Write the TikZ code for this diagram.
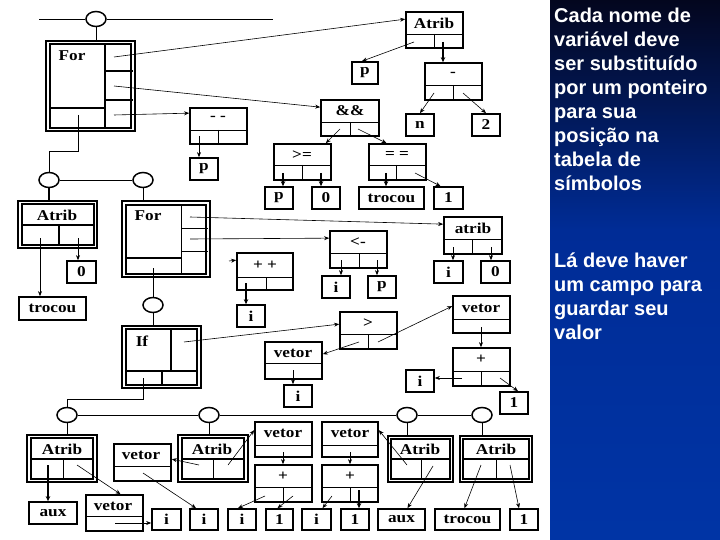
\documentclass[tikz,border=0pt]{standalone}
\usepackage{fontspec}
\usetikzlibrary{arrows.meta,shapes.geometric}
\newfontfamily\bxf{Liberation Serif}[FakeStretch=1.15]
\newfontfamily\sidef{Liberation Sans}
\definecolor{navyA}{RGB}{3,6,30}
\definecolor{navyB}{RGB}{0,44,150}
\definecolor{navyC}{RGB}{0,52,165}
\tikzset{
  bx/.style={draw, line width=1.7pt, inner sep=0pt, font=\bxf\bfseries\fontsize{15}{15}\selectfont},
  dv/.style={line width=0.8pt},
  tdv/.style={line width=2pt},
  inr/.style={line width=1.2pt},
  lbl/.style={inner sep=0pt, font=\bxf\bfseries\fontsize{15}{15}\selectfont},
  ptr/.style={-{Stealth[length=5pt,width=4pt]}, line width=0.6pt},
  tptr/.style={-{Stealth[length=5pt,width=4.5pt]}, line width=1.2pt},
  circ/.style={ellipse, draw, line width=1.5pt, minimum width=20pt, minimum height=15pt, inner sep=0pt},
  lnk/.style={line width=0.8pt},
  side/.style={anchor=base west, inner sep=0pt, text=white, font=\sidef\bfseries\fontsize{20}{24}\selectfont},
}
\newcommand{\MkBox}[5]{\node[bx, minimum width={#4pt-#2pt}, minimum height={#5pt-#3pt}] (#1) at ({(#2+#4)/2},{(#3+#5)/2}) {};}
\newcommand{\MkLeaf}[6]{\node[bx, minimum width={#4pt-#2pt}, minimum height={#5pt-#3pt}] (#1) at ({(#2+#4)/2},{(#3+#5)/2}) {#6};}
\begin{document}
\begin{tikzpicture}[x=1pt,y=-1pt]
\useasboundingbox (0,0) rectangle (720,540);
\fill[white] (0,0) rectangle (550,540);
\shade[top color=navyA, bottom color=navyB] (550,0) rectangle (720,230);
\shade[top color=navyB, bottom color=navyC] (550,230) rectangle (720,540);

% ---------- top level ----------
\coordinate (tl) at (39,19);
\coordinate (tr) at (273,19);
\node[circ] (cT) at (96,19) {};
\draw[lnk] (tl) -- (cT.west) (cT.east) -- (tr);
\MkBox{forA}{46}{41}{135}{131}
\draw[inr] (50,44) rectangle (131,128);
\draw[tdv] (105,44) -- (105,128);
\draw[tdv] (50,108) -- (105,108);
\draw[inr] (105,71) -- (133,71) (105,100) -- (133,100);
\node[lbl] (forA-t) at (72,56) {For};
\draw[lnk] (cT.south) -- (cT.south |- forA.north);

\MkBox{dd}{190}{108}{247}{144}
\draw[dv] (190,130) -- (247,130) (218,130) -- (218,144);
\node[lbl] (dd-t) at (218,118) {- -};
\MkLeaf{p1}{190}{158}{218}{180}{p}

\MkBox{atribT}{406}{12}{463}{48}
\draw[dv] (406,34) -- (463,34) (434,34) -- (434,48);
\node[lbl] (atribT-t) at (434,23) {Atrib};
\MkLeaf{p2}{352}{62}{378}{84}{p}
\MkBox{minus}{425}{63}{482}{100}
\draw[dv] (425,85) -- (482,85) (453,85) -- (453,100);
\node[lbl] (minus-t) at (453,74) {-};
\MkLeaf{n1}{406}{114}{434}{136}{n}
\MkLeaf{two}{472}{114}{500}{136}{2}
\MkBox{and}{321}{100}{379}{136}
\draw[dv] (321,122) -- (379,122) (350,122) -- (350,136);
\node[lbl] (and-t) at (350,111) {\&\&};
\MkBox{ge}{274}{144}{331}{180}
\draw[dv] (274,165) -- (331,165) (302,165) -- (302,180);
\node[lbl] (ge-t) at (302,155) {>=};
\MkLeaf{p3}{265}{187}{293}{209}{p}
\MkLeaf{zero1}{312}{187}{340}{209}{0}
\MkBox{eq}{369}{144}{426}{180}
\draw[dv] (369,165) -- (426,165) (396,165) -- (396,180);
\node[lbl] (eq-t) at (397,155) {= =};
\MkLeaf{trocou1}{359}{187}{424}{209}{trocou}
\MkLeaf{one1}{434}{187}{463}{209}{1}

\coordinate (s-forA1) at (114,57);
\coordinate (s-forA2) at (114,86);
\coordinate (s-forA3) at (114,115);
\coordinate (s-forA4) at (78,115);
\draw[ptr] (s-forA1) -- ([yshift=-8pt]atribT.north west);
\draw[ptr] (s-forA2) -- ([yshift=-8pt]and.north west);
\draw[ptr] (s-forA3) -- ([yshift=-6pt]dd.north west);
\coordinate (s-dd1) at (199,136);
\draw[ptr] (s-dd1) -- (s-dd1 |- p1.north);
\coordinate (s-atT1) at (414,42);
\coordinate (s-atT2) at (443,42);
\draw[ptr] (s-atT1) -- ([xshift=-3pt]p2.north);
\draw[tptr] (s-atT2) -- (s-atT2 |- minus.north);
\coordinate (s-mi1) at (434,93);
\coordinate (s-mi2) at (463,93);
\draw[ptr] (s-mi1) -- (n1.north);
\draw[ptr] (s-mi2) -- (two.north);
\coordinate (s-and1) at (340,129);
\coordinate (s-and2) at (358,129);
\draw[ptr] (s-and1) -- ([xshift=-6pt]ge.north east);
\draw[ptr] (s-and2) -- ([xshift=-11pt]eq.north);
\coordinate (s-ge1) at (283,173);
\coordinate (s-ge2) at (321,173);
\draw[tptr] (s-ge1) -- (s-ge1 |- p3.north);
\draw[tptr] (s-ge2) -- (s-ge2 |- zero1.north);
\coordinate (s-eq1) at (386,173);
\coordinate (s-eq2) at (415,173);
\draw[tptr] (s-eq1) -- (s-eq1 |- trocou1.north);
\draw[ptr] (s-eq2) -- ([xshift=-8pt]one1.north);

% ---------- middle level ----------
\node[circ] (cA) at (49,180) {};
\node[circ] (cB) at (143,180) {};
\draw[lnk] (cA.east) -- (cB.west);
\draw[lnk] (s-forA4) -- ++(0,36) -| (cA.north);

\MkBox{atribL}{18}{201}{97}{248}
\draw[inr] (22,204) rectangle (94,245);
\draw[tdv] (22,225) -- (94,225) (59,225) -- (59,245);
\node[lbl] (atribL-t) at (57,215) {Atrib};
\draw[line width=1.3pt] (cA.south) -- (cA.south |- atribL.north);
\MkLeaf{zero2}{67}{261}{96}{283}{0}
\MkLeaf{trocou2}{19}{297}{86}{320}{trocou}
\coordinate (s-atL1) at (40,238);
\coordinate (s-atL2) at (78,238);
\draw[ptr] (s-atL1) -- (s-atL1 |- trocou2.north);
\draw[ptr] (s-atL2) -- (s-atL2 |- zero2.north);

\MkBox{forB}{122}{201}{210}{277}
\draw[inr] (126,205) rectangle (206,274);
\draw[dv] (181,205) -- (181,274);
\draw[dv] (181,228) -- (208,228) (181,251) -- (208,251);
\draw[tdv] (126,258) -- (181,258);
\node[lbl] (forB-t) at (148,216) {For};
\draw[lnk] (cB.south) -- (cB.south |- forB.north);
\coordinate (s-fB1) at (190,217);
\coordinate (s-fB2) at (190,239);
\coordinate (s-fB3) at (229,261);
\coordinate (s-fB4) at (153,268);

\MkBox{atribR}{444}{217}{502}{254}
\draw[dv] (444,239) -- (502,239) (472,239) -- (472,254);
\node[lbl] (atribR-t) at (473,228) {atrib};
\MkLeaf{i1}{434}{261}{463}{283}{i}
\MkLeaf{zero3}{481}{261}{510}{283}{0}
\draw[ptr] (s-fB1) -- ([yshift=-8pt]atribR.north west);
\coordinate (s-atR1) at (453,247);
\coordinate (s-atR2) at (491,247);
\draw[ptr] (s-atR1) -- (s-atR1 |- i1.north);
\draw[ptr] (s-atR2) -- (s-atR2 |- zero3.north);

\MkBox{asg}{330}{231}{387}{268}
\draw[dv] (330,253) -- (387,253) (359,253) -- (359,268);
\node[lbl] (asg-t) at (358,242) {<-};
\MkLeaf{i2}{322}{276}{350}{298}{i}
\MkLeaf{p4}{368}{276}{396}{298}{p}
\draw[ptr] (s-fB2) -- ([yshift=-8pt]asg.north west);
\coordinate (s-asg1) at (341,260);
\coordinate (s-asg2) at (377,260);
\draw[ptr] (s-asg1) -- (s-asg1 |- i2.north);
\draw[ptr] (s-asg2) -- (s-asg2 |- p4.north);

\MkBox{pp}{237}{253}{293}{290}
\draw[dv] (237,277) -- (293,277) (266,277) -- (266,290);
\node[lbl] (pp-t) at (265,265) {+ +};
\MkLeaf{i3}{237}{305}{265}{327}{i}
\draw[ptr] (s-fB3) -- ([yshift=-8pt]pp.north west);
\coordinate (s-pp1) at (246,283);
\draw[tptr] (s-pp1) -- (s-pp1 |- i3.north);

\node[circ] (cC) at (153,305) {};
\draw[lnk] (s-fB4) -- (cC.north);

\MkBox{ifB}{122}{326}{201}{388}
\draw[inr] (126,329) rectangle (197,385);
\draw[tdv] (171,329) -- (171,371);
\draw[tdv] (126,371) -- (197,371);
\draw[tdv] (162,371) -- (162,385);
\node[lbl] (ifB-t) at (142,341) {If};
\draw[lnk] (cC.south) -- (cC.south |- ifB.north);
\coordinate (s-if1) at (184,342);
\coordinate (s-if2) at (143,378);

\MkBox{gt}{340}{312}{397}{349}
\draw[dv] (340,334) -- (397,334) (368,334) -- (368,349);
\node[lbl] (gt-t) at (368,323) {>};
\draw[ptr] (s-if1) -- ([yshift=-13pt]gt.north west);
\coordinate (s-gt1) at (359,342);
\coordinate (s-gt2) at (378,342);

\MkBox{vet1}{265}{342}{322}{379}
\draw[dv] (265,363) -- (322,363);
\node[lbl] (vet1-t) at (293,353) {vetor};
\MkLeaf{i4}{284}{385}{312}{407}{i}
\draw[ptr] (s-gt1) -- ([yshift=-13pt]vet1.north east);
\coordinate (s-v1) at (293,370);
\draw[ptr] (s-v1) -- (s-v1 |- i4.north);

\MkBox{vet2}{453}{296}{510}{333}
\draw[dv] (453,319) -- (510,319);
\node[lbl] (vet2-t) at (481,308) {vetor};
\draw[ptr] (s-gt2) -- ([yshift=-11pt]vet2.north west);
\coordinate (s-v2) at (481,327);
\MkBox{plus1}{453}{348}{510}{386}
\draw[dv] (453,371) -- (510,371) (481,371) -- (481,386);
\node[lbl] (plus1-t) at (481,359) {+};
\draw[ptr] (s-v2) -- (s-v2 |- plus1.north);
\MkLeaf{i5}{406}{370}{434}{392}{i}
\MkLeaf{one2}{500}{392}{528}{414}{1}
\coordinate (s-pl1a) at (462,378);
\coordinate (s-pl1b) at (500,378);
\draw[ptr] (s-pl1a) -- (s-pl1a -| i5.east);
\draw[ptr] (s-pl1b) -- ([xshift=4pt]one2.north);

% ---------- bottom level ----------
\node[circ] (cD) at (67,415) {};
\node[circ] (cE) at (209,415) {};
\node[circ] (cF) at (407,415) {};
\node[circ] (cG) at (482,415) {};
\draw[lnk] (s-if2) -- ++(0,21) -| (cD.north);
\draw[lnk] (cD.east) -- (cE.west) (cE.east) -- (cF.west) (cF.east) -- (cG.west);

\MkLeaf{i6}{152}{509}{181}{530}{i}
\MkLeaf{i7}{190}{509}{218}{530}{i}
\MkLeaf{i8}{228}{509}{256}{530}{i}
\MkLeaf{one3}{266}{509}{293}{530}{1}
\MkLeaf{i9}{302}{509}{331}{530}{i}
\MkLeaf{one4}{341}{509}{369}{530}{1}
\MkLeaf{aux2}{378}{509}{425}{530}{aux}
\MkLeaf{trocou3}{435}{509}{500}{530}{trocou}
\MkLeaf{one5}{510}{509}{538}{530}{1}

\MkBox{atrib1}{27}{435}{97}{482}
\draw[inr] (31,438) rectangle (93,479);
\draw[tdv] (31,459) -- (93,459);
\draw[dv] (63,459) -- (63,479);
\node[lbl] (atrib1-t) at (62,449) {Atrib};
\draw[lnk] (cD.south) -- (cD.south |- atrib1.north);
\MkLeaf{aux1}{29}{502}{77}{524}{aux}
\MkBox{vet3}{86}{495}{143}{531}
\draw[dv] (86,516) -- (143,516);
\node[lbl] (vet3-t) at (113,506) {vetor};
\coordinate (s-a1a) at (48,465);
\coordinate (s-a1b) at (77,465);
\draw[tptr] (s-a1a) -- (s-a1a |- aux1.north);
\draw[ptr] (s-a1b) -- ([xshift=6pt]vet3.north);
\coordinate (s-v3) at (115,523);
\draw[ptr] (s-v3) -- (s-v3 -| i6.west);

\MkBox{atrib2}{178}{435}{248}{482}
\draw[inr] (182,438) rectangle (244,479);
\draw[tdv] (182,459) -- (244,459);
\draw[dv] (213,459) -- (213,479);
\node[lbl] (atrib2-t) at (212,449) {Atrib};
\draw[lnk] (cE.south) -- (cE.south |- atrib2.north);
\MkBox{vet4}{114}{444}{171}{481}
\draw[dv] (114,466) -- (171,466);
\node[lbl] (vet4-t) at (141,455) {vetor};
\coordinate (s-a2a) at (199,465);
\coordinate (s-a2b) at (228,465);
\coordinate (s-v4) at (143,473);

\MkBox{vet5}{255}{422}{312}{457}
\draw[dv] (255,445) -- (312,445);
\node[lbl] (vet5-t) at (283,433) {vetor};
\MkBox{plus2}{255}{465}{312}{502}
\draw[dv] (255,487) -- (312,487) (283,487) -- (283,502);
\node[lbl] (plus2-t) at (283,476) {+};
\MkBox{vet6}{322}{422}{378}{457}
\draw[dv] (322,445) -- (378,445);
\node[lbl] (vet6-t) at (350,433) {vetor};
\MkBox{plus3}{322}{465}{378}{502}
\draw[dv] (322,487) -- (378,487) (350,487) -- (350,502);
\node[lbl] (plus3-t) at (350,476) {+};

\draw[ptr] (s-a2a) -- ([yshift=-16pt]vet4.north east);
\draw[ptr] (s-a2b) -- ([yshift=-9pt]vet5.north west);
\draw[ptr] (s-v4) -- ([xshift=-8pt]i7.north);
\coordinate (s-v5) at (283,452);
\coordinate (s-v6) at (350,452);
\draw[ptr] (s-v5) -- (s-v5 |- plus2.north);
\draw[ptr] (s-v6) -- (s-v6 |- plus3.north);
\coordinate (s-p2a) at (265,496);
\coordinate (s-p2b) at (293,496);
\coordinate (s-p3a) at (332,496);
\coordinate (s-p3b) at (359,490);
\draw[ptr] (s-p2a) -- ([xshift=-4pt]i8.north);
\draw[ptr] (s-p2b) -- ([xshift=-2pt]one3.north);
\draw[ptr] (s-p3a) -- ([xshift=6pt]i9.north);
\draw[tptr] (s-p3b) -- (s-p3b |- one4.north);

\MkBox{atrib3}{388}{436}{453}{482}
\draw[inr] (391,439) rectangle (450,479);
\draw[tdv] (391,459) -- (450,459);
\draw[dv] (421,459) -- (421,479);
\node[lbl] (atrib3-t) at (420,449) {Atrib};
\draw[lnk] (cF.south) -- (cF.south |- atrib3.north);
\MkBox{atrib4}{460}{436}{532}{482}
\draw[inr] (463,439) rectangle (529,479);
\draw[tdv] (463,459) -- (529,459);
\draw[dv] (496,459) -- (496,479);
\node[lbl] (atrib4-t) at (496,449) {Atrib};
\draw[lnk] (cG.south) -- (cG.south |- atrib4.north);
\coordinate (s-a3a) at (407,465);
\coordinate (s-a3b) at (433,466);
\coordinate (s-a4a) at (481,465);
\coordinate (s-a4b) at (510,465);
\draw[ptr] (s-a3a) -- ([yshift=-9pt]vet6.north east);
\draw[ptr] (s-a3b) -- ([xshift=6pt]aux2.north);
\draw[ptr] (s-a4a) -- ([xshift=-3pt]trocou3.north);
\draw[ptr] (s-a4b) -- ([xshift=-5pt]one5.north);

% ---------- side text ----------
\node[side] (txt1) at (554,23) {\parbox[t]{166pt}{\raggedright Cada nome de\\ variável deve\\ ser substituído\\ por um ponteiro\\ para sua\\ posição na\\ tabela de\\ símbolos}};
\node[side] (txt2) at (554,267) {\parbox[t]{166pt}{\raggedright Lá deve haver\\ um campo para\\ guardar seu\\ valor}};
\end{tikzpicture}
\end{document}
